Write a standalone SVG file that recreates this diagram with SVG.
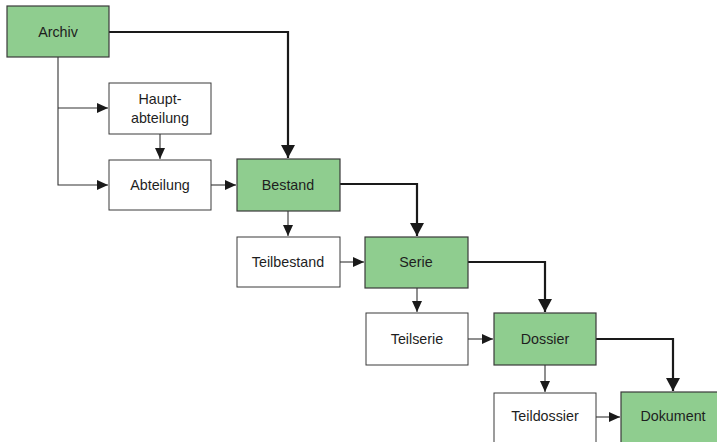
<svg xmlns="http://www.w3.org/2000/svg" width="717" height="442" viewBox="0 0 717 442">
<style>
.g{fill:#8fcd8f;stroke:#3a3a3a;stroke-width:1.2}
.w{fill:#fff;stroke:#3a3a3a;stroke-width:1}
text{font-family:"Liberation Sans",Arial,sans-serif;font-size:14.3px;fill:#1e1e1e;text-anchor:middle;dominant-baseline:central}
.t{fill:none;stroke:#333;stroke-width:1.1}
.k{fill:none;stroke:#1a1a1a;stroke-width:2.2}
</style>
<defs>
<marker id="a" markerWidth="12" markerHeight="10" refX="11" refY="5" orient="auto" markerUnits="userSpaceOnUse"><path d="M0,0 L11,5 L0,10 Z" fill="#1a1a1a"/></marker>
<marker id="b" markerWidth="14" markerHeight="14" refX="13" refY="7" orient="auto" markerUnits="userSpaceOnUse"><path d="M0,0 L13,7 L0,14 Z" fill="#1a1a1a"/></marker>
</defs>
<rect width="717" height="442" fill="#fff"/>
<g id="connectors">
<path class="t" d="M58,57 V185 H108" marker-end="url(#a)"/>
<path class="t" d="M58,108 H108" marker-end="url(#a)"/>
<path class="t" d="M160,134 V159" marker-end="url(#a)"/>
<path class="t" d="M211,185 H236" marker-end="url(#a)"/>
<path class="k" d="M109,32 H288 V158" marker-end="url(#b)"/>
<path class="t" d="M288,211 V236" marker-end="url(#a)"/>
<path class="t" d="M340,262 H364" marker-end="url(#a)"/>
<path class="k" d="M340,184 H417 V236" marker-end="url(#b)"/>
<path class="t" d="M417,288 V312" marker-end="url(#a)"/>
<path class="t" d="M468,339 H493" marker-end="url(#a)"/>
<path class="k" d="M468,262 H545 V312" marker-end="url(#b)"/>
<path class="t" d="M545,365 V392" marker-end="url(#a)"/>
<path class="t" d="M596,417 H620" marker-end="url(#a)"/>
<path class="k" d="M596,339 H673 V391" marker-end="url(#b)"/>
</g>
<g id="archiv"><rect class="g" x="7" y="6" width="102" height="51"/><text x="58" y="31.5">Archiv</text></g>
<g id="hauptabteilung"><rect class="w" x="109" y="83" width="102" height="51"/><text x="160" y="99">Haupt-</text><text x="160" y="118">abteilung</text></g>
<g id="abteilung"><rect class="w" x="109" y="160" width="102" height="50"/><text x="160" y="185">Abteilung</text></g>
<g id="bestand"><rect class="g" x="237" y="159" width="103" height="52"/><text x="288" y="185">Bestand</text></g>
<g id="teilbestand"><rect class="w" x="237" y="237" width="103" height="50"/><text x="288" y="262">Teilbestand</text></g>
<g id="serie"><rect class="g" x="365" y="237" width="103" height="51"/><text x="416" y="262">Serie</text></g>
<g id="teilserie"><rect class="w" x="366" y="313" width="102" height="52"/><text x="417" y="339">Teilserie</text></g>
<g id="dossier"><rect class="g" x="494" y="313" width="102" height="52"/><text x="545" y="339">Dossier</text></g>
<g id="teildossier"><rect class="w" x="494" y="393" width="102" height="52"/><text x="545" y="416">Teildossier</text></g>
<g id="dokument"><rect class="g" x="621" y="392" width="103" height="53"/><text x="673" y="416">Dokument</text></g>
</svg>
